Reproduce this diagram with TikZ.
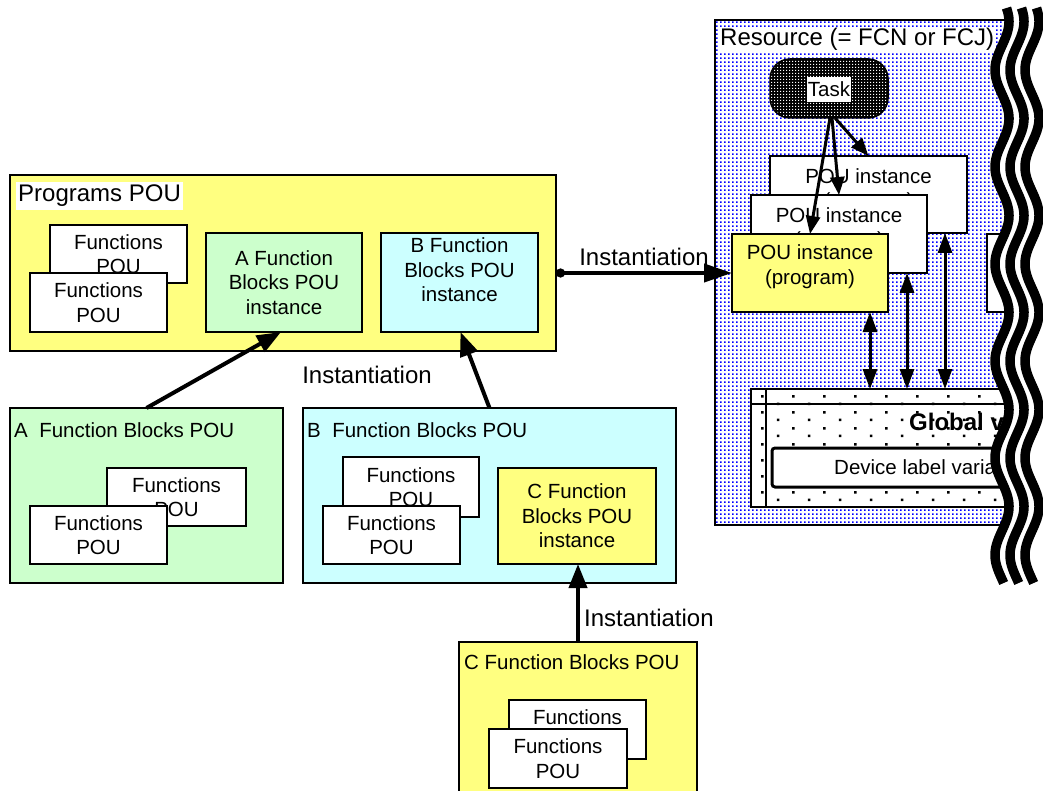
\documentclass[tikz,border=0pt]{standalone}
\usepackage{fontspec}
\setmainfont{Liberation Sans}
\usetikzlibrary{arrows.meta,patterns}
\pgfdeclarepatternformonly{bluedots}{\pgfpointorigin}{\pgfpoint{4pt}{4pt}}{\pgfpoint{4pt}{4pt}}{\pgfpathrectangle{\pgfpointorigin}{\pgfpoint{2pt}{2pt}}\pgfusepath{fill}}
\pgfdeclarepatternformonly{taskdots}{\pgfpointorigin}{\pgfpoint{3pt}{3pt}}{\pgfpoint{3pt}{3pt}}{\pgfpathrectangle{\pgfpointorigin}{\pgfpoint{1.5pt}{1.5pt}}\pgfusepath{fill}}
\pgfdeclarepatternformonly{gdots}{\pgfpointorigin}{\pgfpoint{31pt}{16pt}}{\pgfpoint{31pt}{16pt}}{\pgfpathrectangle{\pgfpoint{2pt}{2pt}}{\pgfpoint{2.6pt}{2.6pt}}\pgfpathrectangle{\pgfpoint{17.5pt}{10pt}}{\pgfpoint{2.6pt}{2.6pt}}\pgfusepath{fill}}
\definecolor{pyel}{RGB}{255,255,128}
\definecolor{pgrn}{RGB}{204,255,204}
\definecolor{pcyn}{RGB}{204,255,255}
\newcommand{\fsn}{\fontsize{20.5}{24.5}\selectfont}
\newcommand{\fsb}{\fontsize{24}{28}\selectfont}
\begin{document}
\begin{tikzpicture}[x=1pt,y=-1pt,
  box/.style={draw=black,line width=1.6pt,anchor=north west,inner sep=0pt,outer sep=0pt},
  txt/.style={font=\fsn,align=center,inner sep=0pt},
  big/.style={font=\fsb,inner sep=0pt},
  inst/.style={line width=4pt,-{Triangle[length=24pt,width=18pt]}},
  tarr/.style={line width=3pt,-{Triangle[length=18pt,width=14pt]}},
  dbl/.style={line width=3pt,{Triangle[length=20pt,width=14pt]}-{Triangle[length=20pt,width=14pt]}}
]
\useasboundingbox (0,0) rectangle (1043,791);

% ---------- Programs POU ----------
\node[box,fill=pyel,minimum width=546pt,minimum height=176pt] (prog) at (10,175) {};
\node[big,fill=white,anchor=north west,inner xsep=2pt,inner ysep=3pt] (progl) at (16,182) {Programs POU};
\node[box,fill=white,minimum width=137pt,minimum height=58pt] (pf1) at (50,225) {};
\node[txt] (pf1t) at (pf1.center) {Functions\\POU};
\node[box,fill=white,minimum width=137pt,minimum height=59pt] (pf2) at (30,273) {};
\node[txt] (pf2t) at (pf2.center) {Functions\\POU};
\node[box,fill=pgrn,minimum width=156pt,minimum height=99pt] (ainst) at (206,233) {};
\node[txt] (ainstt) at (ainst.center) {A Function\\Blocks POU\\instance};
\node[box,fill=pcyn,minimum width=157pt,minimum height=99pt] (binst) at (381,233) {};
\node[txt] (binstt) at (459.5,270) {B Function\\Blocks POU\\instance};

% ---------- A Function Blocks POU ----------
\node[box,fill=pgrn,minimum width=273pt,minimum height=175pt] (ahead) at (10,408) {};
\node[txt,anchor=west] (aheadl) at (14,430) {A\ \ Function Blocks POU};
\node[box,fill=white,minimum width=139pt,minimum height=58pt] (af1) at (107,468) {};
\node[txt] (af1t) at (af1.center) {Functions\\POU};
\node[box,fill=white,minimum width=137pt,minimum height=58pt] (af2) at (30,506) {};
\node[txt] (af2t) at (af2.center) {Functions\\POU};

% ---------- B Function Blocks POU ----------
\node[box,fill=pcyn,minimum width=373pt,minimum height=175pt] (bhead) at (303,408) {};
\node[txt,anchor=west] (bheadl) at (307,430) {B\ \ Function Blocks POU};
\node[box,fill=white,minimum width=136pt,minimum height=60pt] (bf1) at (343,457) {};
\node[txt] (bf1t) at (bf1.center) {Functions\\POU};
\node[box,fill=white,minimum width=137pt,minimum height=58pt] (bf2) at (323,506) {};
\node[txt] (bf2t) at (bf2.center) {Functions\\POU};
\node[box,fill=pyel,minimum width=158pt,minimum height=96pt] (cinst) at (498,468) {};
\node[txt] (cinstt) at (cinst.center) {C Function\\Blocks POU\\instance};

% ---------- C Function Blocks POU ----------
\node[box,fill=pyel,minimum width=238pt,minimum height=170pt] (chead) at (459,642) {};
\node[txt,anchor=west] (cheadl) at (464,662) {C Function Blocks POU};
\node[box,fill=white,minimum width=137pt,minimum height=59pt] (cf1) at (509,700) {};
\node[txt] (cf1t) at (cf1.center) {Functions\\POU};
\node[box,fill=white,minimum width=138pt,minimum height=59pt] (cf2) at (489,729) {};
\node[txt] (cf2t) at (cf2.center) {Functions\\POU};

% ---------- Resource ----------
\node[box,line width=1.5pt,minimum width=345pt,minimum height=505pt,preaction={fill=white},pattern=bluedots,pattern color=blue] (res) at (715,20) {};
\node[big,fill=white,anchor=north west,inner sep=1pt] (resl) at (719,27) {Resource (= FCN or FCJ)};
\node[draw=black,line width=1.5pt,rounded corners=20pt,minimum width=118pt,minimum height=59pt,anchor=north west,inner sep=0pt,outer sep=0pt,preaction={fill=black},pattern=taskdots,pattern color=white] (task) at (770,59) {};
\node[txt,fill=white,inner xsep=1pt,minimum height=25pt] (taskt) at (829,89.5) {Task};

\node[box,fill=white,minimum width=197pt,minimum height=77pt] (pouA) at (770,156) {};
\node[txt] (pouAt) at (868.5,190) {POU instance\\(program)};
\node[box,fill=white,minimum width=176pt,minimum height=78pt] (pouB) at (751,195) {};
\node[txt] (pouBt) at (839,229) {POU instance\\(program)};
\node[box,fill=pyel,minimum width=156pt,minimum height=78pt] (pouP) at (732,234) {};
\node[txt] (pouPt) at (810,266.5) {POU instance\\(program)};
\node[box,fill=white,minimum width=70pt,minimum height=78pt] (pouR) at (987,234) {};

\node[box,line width=1.5pt,minimum width=300pt,minimum height=118pt,preaction={fill=white},pattern=gdots,pattern color=black] (glob) at (751,389) {};
\draw[line width=1.5pt] ([yshift=-15pt]glob.north west) -- ([yshift=-15pt]glob.north east);
\draw[line width=1.5pt] ([xshift=15pt]glob.north west) -- ([xshift=15pt]glob.south west);
\node[font=\fsb\bfseries,inner sep=0pt,anchor=west] (globt) at (909,422) {Global v};
\node[box,line width=3pt,rounded corners=3pt,fill=white,minimum width=290pt,minimum height=39pt] (dev) at (772,448) {};
\node[txt,anchor=west] (devt) at (834,467.5) {Device label varia};

% ---------- connectors ----------
\draw[line width=4pt,{Circle[length=9pt]}-{Triangle[length=28pt,width=18pt]}] (prog.east |- pouP.west) -- (pouP.west);
\node[big] (i1) at (644,257) {Instantiation};
\draw[inst] (ahead.north) -- ([xshift=-3pt]ainst.south);
\draw[inst] (bhead.north) -- ([xshift=1pt]binst.south);
\node[big] (i2) at (367,375) {Instantiation};
\draw[inst] (chead.north) -- (cinst.south -| chead.north);
\node[big,anchor=west] (i3) at (584,618) {Instantiation};

\draw[tarr] ([xshift=1pt]task.south) -- (pouP.north);
\draw[tarr] ([xshift=3pt]task.south) -- (pouB.north);
\draw[tarr] ([xshift=6pt]task.south) -- (pouA.north);

\draw[dbl] ([xshift=-18pt]pouP.south east) -- ([xshift=-18pt]pouP.south east |- glob.north);
\draw[dbl] ([xshift=-20pt]pouB.south east) -- ([xshift=-20pt]pouB.south east |- glob.north);
\draw[dbl] ([xshift=-22pt]pouA.south east) -- ([xshift=-22pt]pouA.south east |- glob.north);

% ---------- wavy break ----------
\fill[white] plot[domain=8:583,samples=300,variable=\t] ({1002+7*cos(3.71134*(\t-21.5))},\t) -- (1060,583) -- (1060,8) -- cycle;
\foreach \c in {1002,1017,1032}
  \draw[line width=9.5pt] plot[domain=8:583,samples=300,variable=\t] ({\c+7*cos(3.71134*(\t-21.5))},\t);
\end{tikzpicture}
\end{document}
